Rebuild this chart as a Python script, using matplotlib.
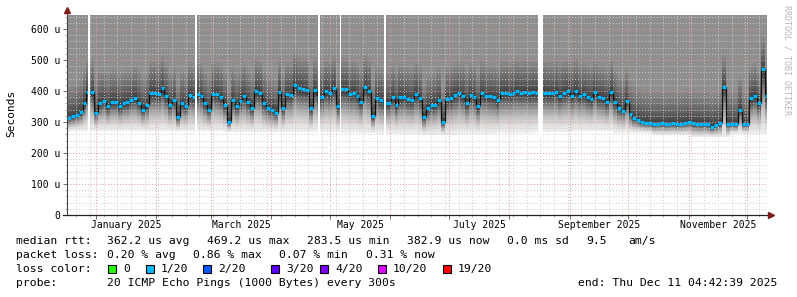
import numpy as np
import pandas as pd
import matplotlib
matplotlib.use("Agg")
import matplotlib.pyplot as plt
import matplotlib.dates as mdates
from matplotlib.patches import Rectangle

# --- data (microseconds, one value per 2-day step) ---
START = pd.Timestamp("2024-12-17 04:42:39")
END = pd.Timestamp("2025-12-11 04:42:39")
STEP_DAYS = 2

median_us = [
    313, 318, 324, 332, 360, 397, 397, 330, 361, 368,
    350, 365, 365, 350, 361, 363, 370, 378, 362, 340,
    355, 393, 395, 390, 408, 385, 355, 371, 316, 361,
    350, 387, 380, 390, 385, 360, 340, 390, 390, 380,
    355, 300, 370, 350, 368, 384, 365, 345, 400, 395,
    361, 345, 339, 330, 398, 345, 390, 388, 419, 408,
    405, 403, 345, 403, 382, 380, 400, 393, 410, 352,
    406, 405, 390, 395, 385, 365, 413, 400, 319, 377,
    370, 361, 361, 380, 355, 380, 380, 374, 371, 390,
    377, 316, 345, 355, 355, 371, 300, 375, 377, 387,
    393, 385, 360, 387, 380, 350, 393, 385, 384, 380,
    370, 393, 395, 390, 395, 400, 395, 397, 393, 397,
    395, 395, 395, 392, 392, 398, 384, 395, 400, 385,
    400, 385, 390, 380, 375, 398, 380, 377, 365, 398,
    365, 345, 337, 368, 326, 312, 306, 300, 297, 296,
    293, 295, 296, 293, 295, 296, 293, 295, 297, 300,
    296, 295, 293, 295, 292, 285, 290, 296, 413, 295,
    295, 293, 340, 293, 293, 377, 385, 360, 471, 384,
]

# lowest ping level of the smoke, one value per 20 days
floor_us = [272, 272, 270, 270, 268, 268, 268, 265, 262,
            258, 262, 265, 268, 270, 265, 258, 250, 262]

# periods without data (start, length in days)
gaps = [("2024-12-28", 1.0), ("2025-02-21", 1.0), ("2025-04-25", 1.0),
        ("2025-05-06", 0.8), ("2025-05-29", 1.0), ("2025-08-16", 2.5)]

month_labels = ["2025-01", "2025-03", "2025-05", "2025-07", "2025-09", "2025-11"]

loss_labels = ["0", "1/20", "2/20", "3/20", "4/20", "10/20", "19/20"]
loss_colors = ["#26ff00", "#00b8ff", "#0059ff", "#5e00ff", "#7e00ff", "#dd00ff", "#ff0000"]

rtt_stats = ["362.2 us avg", "469.2 us max", "283.5 us min", "382.9 us now",
             "0.0 ms sd", "9.5", "am/s"]
loss_stats = ["0.20 % avg", "0.86 % max", "0.07 % min", "0.31 % now"]
probe_text = "20 ICMP Echo Pings (1000 Bytes) every 300s"
end_text = "end: Thu Dec 11 04:42:39 2025"

W, H = 797, 297
MONO = "DejaVu Sans Mono"
YMAX = 645

fig = plt.figure(figsize=(W / 100, H / 100), dpi=100)
fig.patch.set_facecolor("white")
ax = fig.add_axes([67 / W, 82 / H, 700 / W, 200 / H])

med = np.array(median_us, dtype=float)
n = len(med)
xe = mdates.date2num([START + pd.Timedelta(days=STEP_DAYS * i) for i in range(n + 1)])
ye = np.arange(0, YMAX + 2.5, 2.5)
yc = (ye[:-1] + ye[1:]) / 2

# smoke: light fade from the lowest ping up to the median, darker core above it
C = np.full((len(yc), n), np.nan)
for j, m in enumerate(med):
    fl = floor_us[j // 10]
    below = (yc >= fl) & (yc < m)
    t = (yc[below] - fl) / (m - fl)
    C[below, j] = 0.93 - 0.75 * t ** 1.5
    above = yc >= m
    d = np.clip((yc[above] - m) / 110.0, 0, 1)
    C[above, j] = 0.22 + 0.34 * d ** 0.7
ax.pcolormesh(xe, ye, np.ma.masked_invalid(C), cmap="gray", vmin=0, vmax=1,
              shading="flat", zorder=2, rasterized=True)

# median line
ax.plot(xe[:-1], med, drawstyle="steps-post", color="#111111", lw=0.9, zorder=3)
ax.hlines(med, xe[:-1], xe[1:], colors=loss_colors[1], lw=2.3, zorder=4)

for g, days in gaps:
    g0 = pd.Timestamp(g)
    ax.axvspan(mdates.date2num(g0), mdates.date2num(g0 + pd.Timedelta(days=days)),
               ymin=250 / YMAX, color="white", lw=0, zorder=4.5)

ax.set_xlim(mdates.date2num(START), mdates.date2num(END))
ax.set_ylim(0, YMAX)

# grid
ax.xaxis.set_major_locator(mdates.MonthLocator())
ax.xaxis.set_minor_locator(mdates.WeekdayLocator(byweekday=mdates.SU))
ax.xaxis.set_major_formatter(plt.NullFormatter())
ax.set_yticks(np.arange(0, 601, 100))
ax.set_yticks(np.arange(0, YMAX, 20), minor=True)
ax.set_yticklabels(["0"] + [f"{v} u" for v in range(100, 601, 100)],
                   family=MONO, fontsize=7)
ax.grid(which="minor", color="#cccccc", ls=(0, (1, 2)), lw=0.7, zorder=1)
ax.grid(which="major", color="#e09a9a", ls=(0, (1, 2)), lw=0.7, zorder=5)
ax.set_axisbelow(False)
ax.tick_params(which="major", length=3, width=0.6, color="#555555", pad=2)
ax.tick_params(which="minor", length=1.5, width=0.5, color="#999999")

for lab in month_labels:
    a = pd.Timestamp(lab + "-01")
    b = a + pd.offsets.MonthBegin(1)
    mid = mdates.date2num(a + (b - a) / 2)
    ax.text(mid, -10 / 200, a.strftime("%B %Y"), transform=ax.get_xaxis_transform(),
            ha="center", va="center", family=MONO, fontsize=7)

for s in ["top", "right", "left", "bottom"]:
    ax.spines[s].set_visible(False)
arrow_c = "#7f1d1d"
ax.plot([0, 0], [0, 1.02], color="#444444", lw=0.8, transform=ax.transAxes, clip_on=False, zorder=6)
ax.plot([-0.006, 1.005], [0, 0], color="#222222", lw=0.9, transform=ax.transAxes, clip_on=False, zorder=6)
ax.plot([0], [1.025], marker="^", ms=4, color=arrow_c, transform=ax.transAxes, clip_on=False, zorder=7)
ax.plot([1.006], [0], marker=">", ms=4, color=arrow_c, transform=ax.transAxes, clip_on=False, zorder=7)

fig.text(11 / W, 1 - 113 / H, "Seconds", rotation=90, ha="center", va="center",
         family=MONO, fontsize=8)
fig.text(787 / W, 1 - 5 / H, "RRDTOOL / TOBI OETIKER", rotation=270, ha="center", va="top",
         family=MONO, fontsize=6, color="#b8b8b8")


def put(x, y, s, **kw):
    fig.text(x / W, 1 - y / H, s, ha="left", va="center", family=MONO, fontsize=8.2, **kw)


put(16, 241, "median rtt:")
for x, s in zip([107, 207, 307, 407, 507, 586, 628], rtt_stats):
    put(x, 241, s)
put(16, 255, "packet loss:")
for x, s in zip([107, 193, 279, 366], loss_stats):
    put(x, 255, s)
put(16, 269, "loss color:")
for x, lab, col in zip([108, 145.5, 203, 271, 320, 378, 443], loss_labels, loss_colors):
    fig.add_artist(Rectangle((x / W, 1 - 272.5 / H), 8 / W, 8 / H, transform=fig.transFigure,
                             facecolor=col, edgecolor="black", lw=0.8))
    put(x + 15, 269, lab)
put(16, 283, "probe:")
put(107, 283, probe_text)
put(578, 283, end_text)

fig.savefig("out.png", dpi=100)
